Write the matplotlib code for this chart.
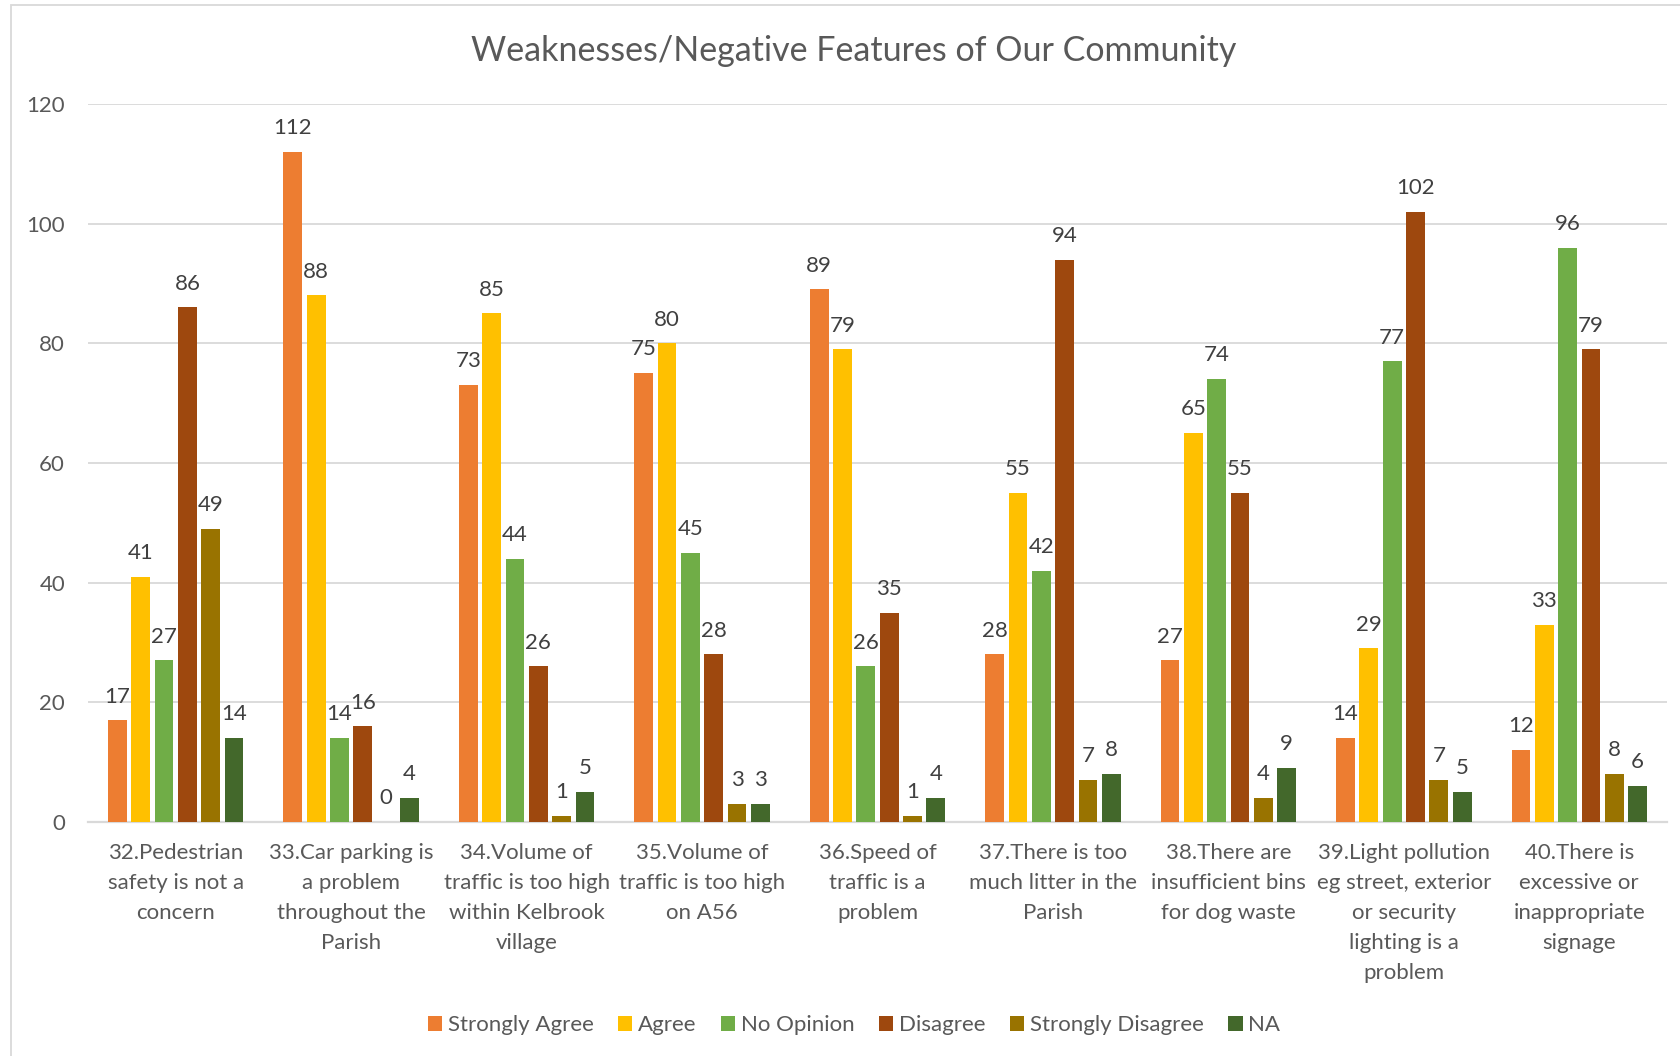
import matplotlib
matplotlib.use("Agg")
import matplotlib.pyplot as plt
import numpy as np
from matplotlib.patches import Rectangle

categories = [
    "32.Pedestrian\nsafety is not a\nconcern",
    "33.Car parking is\na problem\nthroughout the\nParish",
    "34.Volume of\ntraffic is too high\nwithin Kelbrook\nvillage",
    "35.Volume of\ntraffic is too high\non A56",
    "36.Speed of\ntraffic is a\nproblem",
    "37.There is too\nmuch litter in the\nParish",
    "38.There are\ninsufficient bins\nfor dog waste",
    "39.Light pollution\neg street, exterior\nor security\nlighting is a\nproblem",
    "40.There is\nexcessive or\ninappropriate\nsignage",
]
strongly_agree = [17, 112, 73, 75, 89, 28, 27, 14, 12]
agree = [41, 88, 85, 80, 79, 55, 65, 29, 33]
no_opinion = [27, 14, 44, 45, 26, 42, 74, 77, 96]
disagree = [86, 16, 26, 28, 35, 94, 55, 102, 79]
strongly_disagree = [49, 0, 1, 3, 1, 7, 4, 7, 8]
na = [14, 4, 5, 3, 4, 8, 9, 5, 6]
series_names = ["Strongly Agree", "Agree", "No Opinion", "Disagree", "Strongly Disagree", "NA"]
colors = ["#ED7D31", "#FFC000", "#70AD47", "#9E480E", "#997300", "#43682B"]
yticks = [0, 20, 40, 60, 80, 100, 120]

series = [strongly_agree, agree, no_opinion, disagree, strongly_disagree, na]

plt.rcParams['font.family'] = ['Lato', 'DejaVu Sans']

fig = plt.figure(figsize=(16.8, 10.56), dpi=100)
ax = fig.add_axes([88/1680, 1 - 822/1056, (1667-88)/1680, (822-104)/1056])

x = np.arange(len(categories))
pitch = 0.133
width = 0.107
for i, (vals, name, c) in enumerate(zip(series, series_names, colors)):
    pos = x + (i - 2.5) * pitch
    bars = ax.bar(pos, vals, width=width, color=c, label=name, zorder=3)
    for b, v in zip(bars, vals):
        ax.text(b.get_x() + b.get_width()/2, v + 2.3, str(v), ha='center', va='bottom',
                fontsize=16, color='#404040', zorder=4)

ax.set_xlim(-0.5, len(categories) - 0.5)
ax.set_ylim(0, 120)
ax.set_yticks(yticks)
ax.set_yticklabels([str(t) for t in yticks])
ax.grid(axis='y', color='#D9D9D9', linewidth=1.3, zorder=0)
ax.set_axisbelow(True)
for s in ['top', 'right', 'left']:
    ax.spines[s].set_visible(False)
ax.spines['bottom'].set_color('#D9D9D9')
ax.spines['bottom'].set_linewidth(1.6)
ax.tick_params(axis='both', length=0, colors='#595959', labelsize=16)
ax.tick_params(axis='y', pad=16.5)
ax.tick_params(axis='x', pad=15)
ax.set_xticks(x)
ax.set_xticklabels(categories, linespacing=1.62, color='#595959')

fig.text(854/1680, 1 - 51/1056, "Weaknesses/Negative Features of Our Community",
         ha='center', va='center', fontsize=24.5, color='#595959')

handles, labels = ax.get_legend_handles_labels()
leg = fig.legend(handles, labels, loc='center', bbox_to_anchor=(854/1680, 1 - 1025/1056),
                 ncol=6, frameon=False, fontsize=16, handlelength=0.65, handleheight=0.65,
                 handletextpad=0.25, columnspacing=1.1)
for t in leg.get_texts():
    t.set_color('#595959')

fig.patches.append(Rectangle((11/1680, -0.05), 1.1, 1.05 - 5/1056, transform=fig.transFigure,
                             fill=False, edgecolor='#D9D9D9', linewidth=1.3))

fig.savefig("out.png", dpi=100)
